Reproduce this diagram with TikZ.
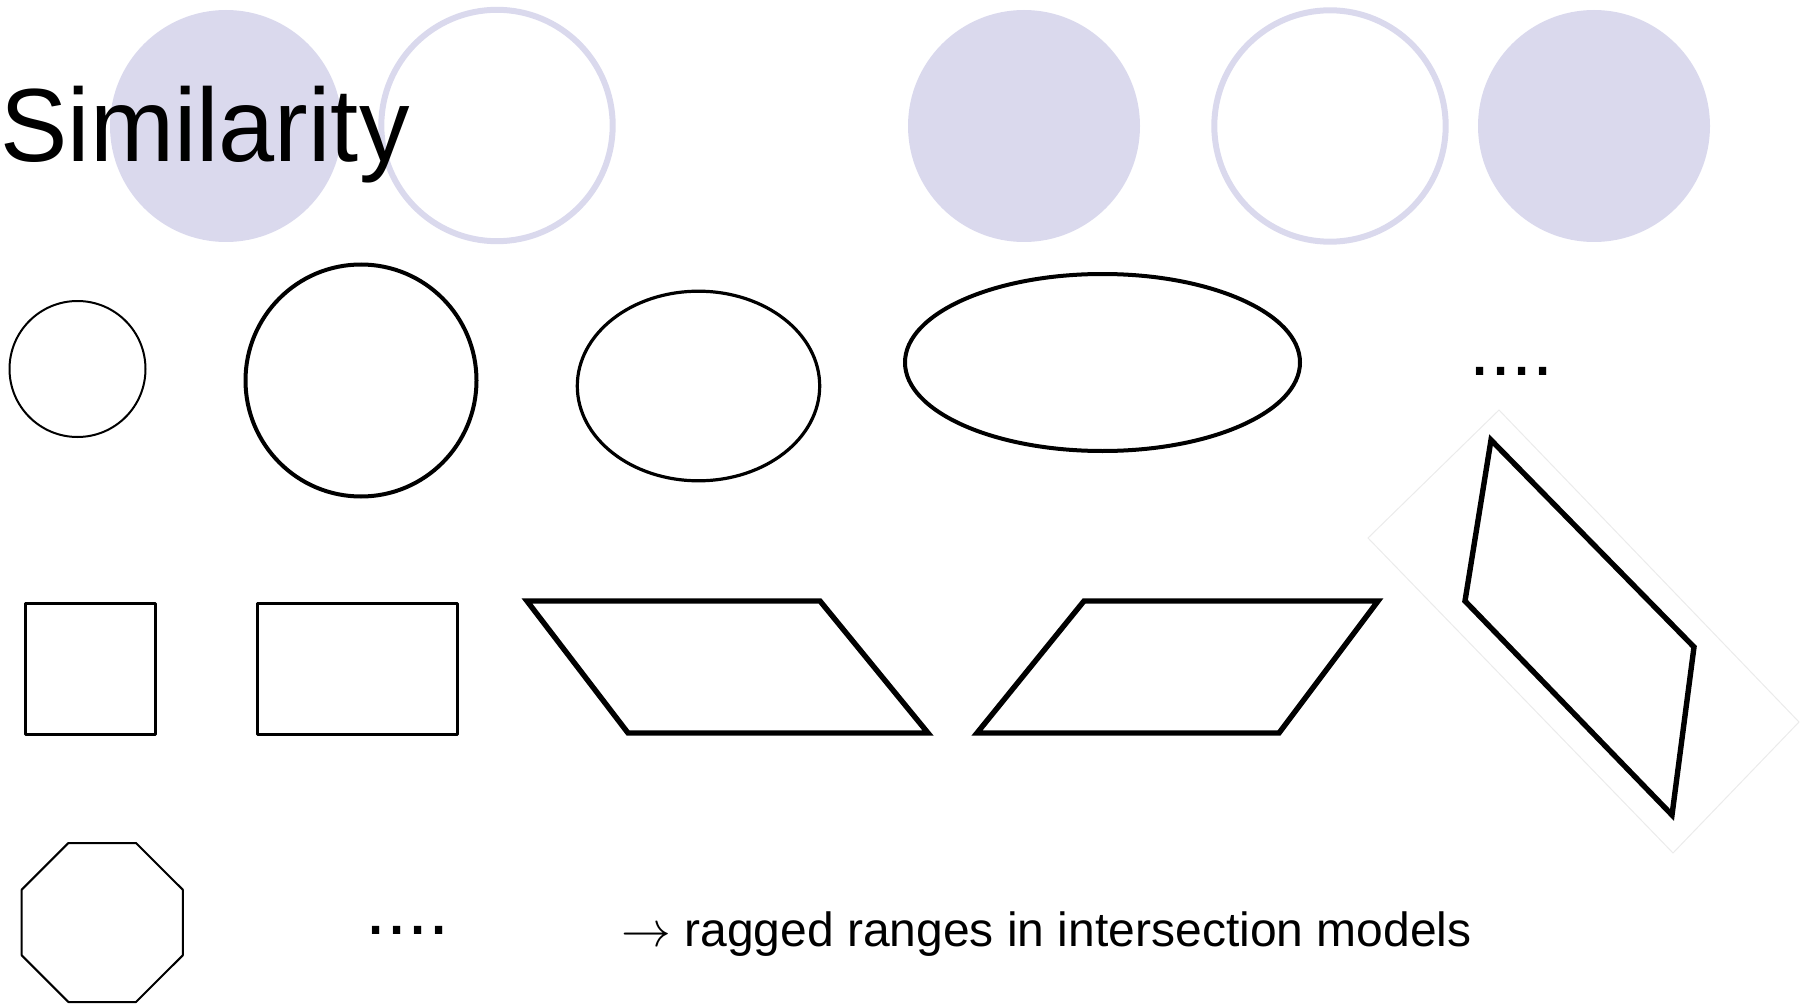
\documentclass[tikz,border=0pt]{standalone}
\usepackage{fontspec}
\setmainfont{Liberation Sans}
\definecolor{lav}{RGB}{218,217,237}
\begin{document}
\begin{tikzpicture}[x=0.5pt,y=-0.5pt,
  disc/.style={fill=lav},
  ring/.style={draw=lav,line width=3pt},
  thinline/.style={draw=black,line width=1pt,line join=round},
  midline/.style={draw=black,line width=1.6pt,line join=round},
  boldline/.style={draw=black,line width=2pt},
  heavyline/.style={draw=black,line width=2.7pt,line join=miter},
  frameline/.style={draw=black!8,line width=0.5pt},
  txt/.style={inner sep=0pt,anchor=base west}]
\useasboundingbox (0,0) rectangle (1801,1006);

% decorative header circles
\fill[disc] (226,126) circle[radius=116];
\draw[ring] (497,125.5) circle[radius=115.7];
\fill[disc] (1024,126) circle[radius=116];
\draw[ring] (1330,126) circle[radius=115.7];
\fill[disc] (1594,126) circle[radius=116];

% title
\node[txt,xscale=0.97,font=\fontsize{52pt}{60pt}\selectfont] (title) at (0,162) {Similarity};

% round shapes
\draw[thinline] (77.5,369) circle[radius=68];
\draw[boldline] (361,380.5) ellipse[x radius=115.5,y radius=116];
\draw[midline] (698.5,386) ellipse[x radius=121.2,y radius=94.8];
\draw[boldline] (1102.5,362.5) ellipse[x radius=197.5,y radius=88.5];
\node[txt,font=\fontsize{38pt}{44pt}\selectfont] (dotsA) at (1469,375) {....};

% rectangles and parallelograms
\draw[midline] (25.5,603.5) rectangle (155.5,734.5);
\draw[midline] (257.5,603.5) rectangle (457.5,734.5);
\draw[heavyline] (527,601) -- (820,601) -- (928,733) -- (628,733) -- cycle;
\draw[heavyline] (1084,601) -- (1378,601) -- (1279,733) -- (977,733) -- cycle;

% tilted parallelogram with its faint frame
\draw[frameline] (1499,410) -- (1799,722) -- (1673,853) -- (1368,538) -- cycle;
\draw[heavyline] (1491,440) -- (1694,647) -- (1672,815) -- (1465,601) -- cycle;

% octagon
\draw[thinline] (68.4,843) -- (136,843) -- (182.8,889.7) -- (182.8,955.3)
  -- (136,1002) -- (68.4,1002) -- (21.7,955.3) -- (21.7,889.7) -- cycle;

\node[txt,font=\fontsize{38pt}{44pt}\selectfont] (dotsB) at (365,934) {....};
\node[txt,font=\fontsize{24pt}{28pt}\selectfont] (note) at (621,946)
  {$\rightarrow$ ragged ranges in intersection models};
\end{tikzpicture}
\end{document}
